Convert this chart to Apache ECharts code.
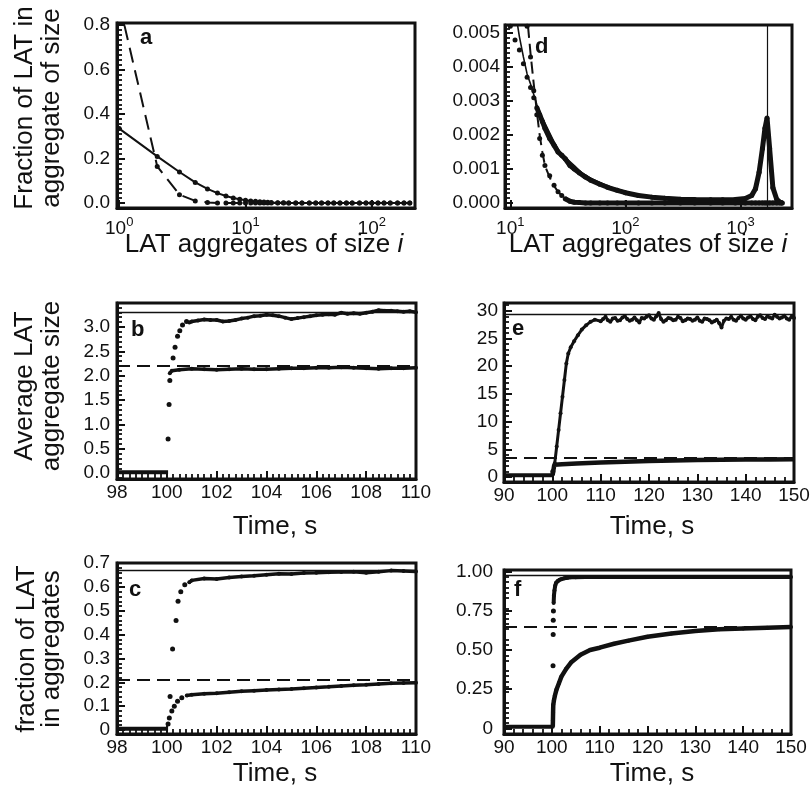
<!DOCTYPE html>
<html><head><meta charset="utf-8">
<script src="https://cdn.jsdelivr.net/npm/echarts@6/dist/echarts.min.js"></script>
<style>html,body{margin:0;padding:0;background:#fff}#c{width:811px;height:796px}</style>
</head><body><div id="c"></div>
<script>
// ---------------- DATA ----------------
// Panel a : distribution, log x
const aSizes = [1,2,3,4,5,6,7,8,9,10,11,12,13,14,15,16,18,20,22,25,28,32,36,40,45,50,56,63,70,80,90,100,112,125,140,160,180,200];
const aSolidFrac = [0.335,0.21,0.14,0.093,0.064,0.045,0.032,0.023,0.017,0.013,0.010,0.008,0.006,0.005,0.004,0.003,0.002,0.0015,0.001,0.0008,0.0006,0.0005,0.0004,0.0003,0.0003,0.0002,0.0002,0.0002,0.0001,0.0001,0.0001,0.0001,0.0001,0.0001,0.0001,0.0001,0.0001,0.0001];
const aDashFrac = [0.9,0.165,0.038,0.01,0.003,0.001,0.0004,0.0002,0.0001,0,0,0,0,0,0,0,0,0,0,0,0,0,0,0,0,0,0,0,0,0,0,0,0,0,0,0,0,0];
const aXTicks = [1,10,100];
const aYTicks = [0,0.2,0.4,0.6,0.8];

// Panel d : distribution, log x
const dModelSizes = [11,12,13,14,15,17,19,21,24,27,31,36,42,50,60,75,90,110,140,180,230,300,400,500,650,800,1000,1150,1250,1350,1450,1550,1630,1700,1790,1910,2065,2200,2300];
const dModelSolid = [0.0057,0.0049,0.0043,0.0038,0.0035,0.0029,0.0025,0.0022,0.0018,0.0015,0.0013,0.0011,0.00088,0.00073,0.0006,0.00046,0.00038,0.0003,0.00022,0.00017,0.00014,0.00012,0.0001,0.00009,0.00009,0.0001,0.00012,0.00016,0.00025,0.00045,0.0009,0.0016,0.0022,0.0025,0.0016,0.00045,0.0001,0.00002,0];
const dDashSizes = [13,14,15,16,17,18,19,20,22,24,26,28,30,34,40,60,200,1000,2300];
const dModelDash = [0.0068,0.0055,0.0044,0.0035,0.0027,0.002,0.0015,0.0011,0.00075,0.0005,0.00033,0.00022,0.00014,0.00005,0.00001,0,0,0,0];
const dSimSizes = [10,11,12,13,14,15,16,17,18,19,20,22,24,26,28,30,33,36,40,45,50,60,70,85,100,130,170,220,300,400,550,700,900,1100,1250,1350,1450,1550,1630,1700,1790,1910,2065,2200,2300];
const dSim1 = [0.0052,0.0048,0.0045,0.0041,0.0037,0.0034,0.0031,0.0028,0.0026,0.0024,0.0022,0.0019,0.0017,0.0015,0.0014,0.0013,0.0011,0.001,0.00088,0.00076,0.00067,0.00055,0.00046,0.00037,0.0003,0.00022,0.00017,0.00014,0.00011,0.0001,0.00009,0.00009,0.0001,0.00013,0.00022,0.00042,0.0009,0.0016,0.0022,0.0025,0.0016,0.00045,0.0001,0.00002,0];
const dSim2 = [0.009,0.0082,0.0074,0.0063,0.0052,0.0043,0.0033,0.0026,0.0019,0.0014,0.0011,0.0008,0.00052,0.00033,0.00022,0.00012,0.00005,0.00002,0.00001,0,0,0,0,0,0,0,0,0,0,0,0,0,0,0,0,0,0,0,0,0,0,0,0,0,0];
const dMeanSize = 1700;
const dXTicks = [10,100,1000];
const dYTicks = [0,0.001,0.002,0.003,0.004,0.005];

// Panel b : average aggregate size vs time
const bBaseT = [98,99,100.05];
const bBaseV = [0.02,0.02,0.02];
const bUpJumpT = [100.05,100.09,100.12,100.25,100.33,100.43,100.52,100.63,100.79];
const bUpJumpV = [0.70,1.41,1.90,2.36,2.58,2.81,2.92,3.04,3.11];
const bUpT = [100.9,101,101.25,101.5,101.75,102,102.25,102.5,102.75,103,103.25,103.5,103.75,104,104.25,104.5,104.75,105,105.25,105.5,105.75,106,106.25,106.5,106.75,107,107.25,107.5,107.75,108,108.25,108.5,108.75,109,109.25,109.5,109.75,110];
const bUpV = [3.09,3.11,3.13,3.15,3.14,3.14,3.11,3.12,3.14,3.17,3.19,3.22,3.23,3.25,3.24,3.22,3.19,3.16,3.18,3.2,3.22,3.24,3.25,3.26,3.25,3.29,3.27,3.28,3.27,3.29,3.31,3.34,3.33,3.33,3.32,3.31,3.32,3.3];
const bLowT = [100.12,100.2,100.5,101,101.5,102,102.5,103,103.5,104,104.5,105,105.5,106,106.5,107,107.5,108,108.5,109,109.5,110];
const bLowV = [2.05,2.1,2.12,2.14,2.13,2.12,2.13,2.14,2.13,2.13,2.14,2.15,2.15,2.16,2.16,2.17,2.16,2.15,2.14,2.15,2.15,2.16];
const bSolidRef = 3.3, bDashRef = 2.2;
const bXTicks = [98,100,102,104,106,108,110];
const bYTicks = [0,0.5,1,1.5,2,2.5,3];

// Panel e
const eBaseT = [90,95,100.05];
const eBaseV = [0.3,0.3,0.3];
const eUpJumpT = [100.1];
const eUpJumpV = [1.0];
const eUpT = [100.5,100.9,101.3,101.7,102.1,102.5,102.9,103.3,103.8,104.5,105.3,106.1,107,107.9,108.8,
  110,110.5,111,111.5,112,112.5,113,113.5,114,114.5,115,115.5,116,116.5,117,117.5,118,118.5,119,119.5,
  120,120.5,121,121.5,122,122.5,123,123.5,124,124.5,125,125.5,126,126.5,127,127.5,128,128.5,129,129.5,
  130,130.5,131,131.5,132,132.5,133,133.5,134,134.5,135,135.5,136,136.5,137,137.5,138,138.5,139,139.5,
  140,140.5,141,141.5,142,142.5,143,143.5,144,144.5,145,145.5,146,146.5,147,147.5,148,148.5,149,149.5,150];
const eUpV = [2.5,5.5,8.5,11.5,14.5,17.5,20.5,22.3,23.4,24.5,25.6,26.6,27.4,28.0,28.4,
  28.1,28.5,28.9,28.3,28.0,28.6,28.7,28.2,28.3,28.8,29.0,28.5,28.2,28.4,28.8,28.3,27.9,28.7,28.6,28.9,
  29.2,28.6,28.4,29.0,29.6,28.5,28.0,28.3,28.7,28.6,28.3,28.4,28.9,28.7,28.1,28.3,28.6,28.5,28.2,28.4,
  28.8,28.2,28.0,28.6,28.5,28.3,27.9,28.1,28.4,27.8,27.0,28.2,28.6,28.5,28.9,28.4,28.2,28.7,29.1,28.6,
  28.4,28.8,29.0,28.5,28.3,28.9,29.2,28.7,28.5,29.0,28.8,28.6,29.3,28.9,28.6,28.8,29.1,28.6,28.4,28.9,28.7];
const eLowT = [100.05,100.4,102,105,110,115,120,125,130,135,140,145,150];
const eLowV = [0.3,2.2,2.3,2.45,2.6,2.75,2.87,2.97,3.05,3.1,3.15,3.18,3.2];
const eSolidRef = 29.3, eDashRef = 3.55;
const eXTicks = [90,100,110,120,130,140,150];
const eYTicks = [0,5,10,15,20,25,30];

// Panel c
const cBaseT = [98,99,100.05];
const cBaseV = [0.005,0.005,0.005];
const cUpJumpT = [100.13,100.23,100.37,100.45,100.56,100.72];
const cUpJumpV = [0.14,0.34,0.46,0.54,0.58,0.61];
const cUpT = [100.9,101,101.5,102,102.5,103,103.5,104,104.5,105,105.5,106,106.5,107,107.5,108,108.5,109,109.5,110];
const cUpV = [0.62,0.628,0.636,0.634,0.64,0.644,0.647,0.652,0.656,0.655,0.659,0.66,0.662,0.663,0.664,0.66,0.664,0.669,0.667,0.665];
const cLowJumpT = [100.05,100.1,100.2,100.3,100.43,100.6];
const cLowJumpV = [0.025,0.05,0.08,0.1,0.12,0.135];
const cLowT = [100.8,101,101.5,102,102.5,103,103.5,104,104.5,105,105.5,106,106.5,107,107.5,108,108.5,109,109.5,110];
const cLowV = [0.145,0.148,0.152,0.154,0.158,0.162,0.165,0.168,0.17,0.172,0.175,0.178,0.181,0.185,0.188,0.19,0.193,0.196,0.197,0.198];
const cSolidRef = 0.673, cDashRef = 0.21;
const cXTicks = [98,100,102,104,106,108,110];
const cYTicks = [0,0.1,0.2,0.3,0.4,0.5,0.6,0.7];

// Panel f
const fBaseT = [90,95,100.2];
const fBaseV = [0.01,0.01,0.01];
const fUpJumpT = [100.25,100.28,100.3,100.33];
const fUpJumpV = [0.40,0.60,0.69,0.75];
const fUpT = [100.38,100.45,100.55,100.7,100.9,101.2,101.6,102,102.6,103.3,104,105,107,110,115,120,130,140,150];
const fUpV = [0.8,0.85,0.88,0.91,0.93,0.94,0.948,0.953,0.958,0.962,0.964,0.965,0.966,0.966,0.966,0.966,0.966,0.966,0.966];
const fLowT = [100.2,100.23,100.26,100.3,100.45,100.65,101,101.5,102,103,104,106,108,110,113,116,120,125,130,135,140,145,150];
const fLowV = [0.01,0.05,0.1,0.15,0.18,0.21,0.25,0.29,0.33,0.38,0.42,0.47,0.5,0.515,0.54,0.56,0.585,0.605,0.622,0.632,0.638,0.643,0.647];
const fSolidRef = 0.978, fDashRef = 0.653;
const fXTicks = [90,100,110,120,130,140,150];
const fYTicks = [0,0.25,0.5,0.75,1];

// ---------------- STYLE / LAYOUT ----------------
const FF = '"Liberation Sans", Arial, Helvetica, sans-serif';
const INK = '#111';
const grids = [
  {left:117, top:23, width:298, height:185},   // a
  {left:505, top:25, width:287, height:183},   // d
  {left:117, top:303, width:299, height:176},  // b
  {left:504, top:303, width:290, height:179},  // e
  {left:117, top:563, width:299, height:171},  // c
  {left:504, top:570, width:287, height:164}   // f
].map(g => Object.assign({show:true, borderColor:INK, borderWidth:3, backgroundColor:'transparent', containLabel:false, outerBoundsMode:'none'}, g));

const P = (xs, ys) => xs.map((x, i) => [x, ys[i]]);
const supFmt = v => { const e = Math.round(Math.log10(v)); return '10{sup|' + e + '}'; };

function xAxis(gi, type, min, max, ticks, fmt, minorSplit, margin) {
  const tick = {show:true, inside:true, length:8, lineStyle:{color:INK, width:2}};
  if (type === 'log') tick.customValues = ticks;
  const ax = {
    type, gridIndex: gi, min, max,
    axisLine: {show:true, onZero:false, lineStyle:{color:INK, width:3}},
    axisTick: tick,
    axisLabel: {show:true, customValues: ticks, formatter: fmt, color:INK, fontSize:19, fontFamily:FF, margin: margin,
      rich: {sup: {fontSize:13, fontFamily:FF, color:INK, padding:[0,0,12,0]}}},
    splitLine: {show:false},
    minorTick: {show: !!minorSplit, splitNumber: minorSplit || 5, length:5, lineStyle:{color:INK, width:1.8}},
    minorSplitLine: {show:false}
  };
  if (type === 'log') ax.logBase = 10;
  return ax;
}
function yAxis(gi, min, max, ticks, fmt, minorSplit, margin, splitNumber, customTicks) {
  const tick = {show:true, inside:true, length:8, lineStyle:{color:INK, width:2}};
  if (customTicks) tick.customValues = ticks;
  return {
    type:'value', gridIndex: gi, min, max, splitNumber: splitNumber || 5,
    axisLine: {show:true, onZero:false, lineStyle:{color:INK, width:3}},
    axisTick: tick,
    axisLabel: {show:true, customValues: ticks, formatter: fmt, color:INK, fontSize:19, fontFamily:FF, margin: margin},
    splitLine: {show:false},
    minorTick: {show:true, splitNumber: minorSplit, length:5, lineStyle:{color:INK, width:1.8}},
    minorSplitLine: {show:false}
  };
}

function lineS(gi, data, w, dash, sym) {
  return {type:'line', xAxisIndex:gi, yAxisIndex:gi, data, clip:true, silent:true, animation:false,
    symbol:'circle', symbolSize: sym || 0, showSymbol: !!sym, showAllSymbol: true,
    itemStyle:{color:INK, opacity:1}, lineStyle:{color:INK, width:w, type: dash || 'solid'}, emphasis:{disabled:true}};
}
function dotS(gi, data, size) {
  return {type:'scatter', xAxisIndex:gi, yAxisIndex:gi, data, clip:true, silent:true, animation:false,
    symbolSize: size, itemStyle:{color:INK, opacity:1}, emphasis:{disabled:true}};
}
function refLines(series, solidV, dashV) {
  series.markLine = {symbol:['none','none'], silent:true, animation:false, label:{show:false},
    data: [
      {yAxis: solidV, lineStyle:{color:INK, width:1.4, type:'solid'}},
      {yAxis: dashV, lineStyle:{color:INK, width:2, type:[13,7]}}
    ]};
  return series;
}

const series = [];
// a
series.push(lineS(0, P(aSizes, aDashFrac), 2, [15,8], 5));
series.push(lineS(0, P(aSizes, aSolidFrac), 2, 'solid', 5));
// d
series.push(lineS(1, P(dDashSizes, dModelDash), 2, [12,6], 0));
series.push(lineS(1, P(dModelSizes, dModelSolid), 1.6, 'solid', 0));
series.push(dotS(1, P(dSimSizes, dSim2), 5));
series.push(dotS(1, P(dSimSizes, dSim1), 5));
series.push(lineS(1, P(dSimSizes, dSim2).filter(p => p[0] >= 30), 5, 'solid', 0));
const dThick = lineS(1, P(dSimSizes, dSim1).filter(p => p[0] >= 17), 5, 'solid', 0);
dThick.markLine = {symbol:['none','none'], silent:true, animation:false, label:{show:false},
  data:[{xAxis: dMeanSize, lineStyle:{color:INK, width:1.2, type:'solid'}}]};
series.push(dThick);
// b
series.push(refLines(lineS(2, P(bBaseT, bBaseV), 4), bSolidRef, bDashRef));
series.push(dotS(2, P(bUpJumpT, bUpJumpV), 5));
series.push(lineS(2, P(bUpT, bUpV), 3.5, 'solid', 4));
series.push(lineS(2, P(bLowT, bLowV), 3.5, 'solid', 4));
// e
series.push(refLines(lineS(3, P(eBaseT, eBaseV), 4), eSolidRef, eDashRef));
series.push(dotS(3, P(eUpJumpT, eUpJumpV), 5));
series.push(lineS(3, P(eUpT, eUpV), 3, 'solid', 4));
series.push(lineS(3, P(eLowT, eLowV), 4.5, 'solid', 0));
// c
series.push(refLines(lineS(4, P(cBaseT, cBaseV), 4), cSolidRef, cDashRef));
series.push(dotS(4, P(cUpJumpT, cUpJumpV), 5));
series.push(lineS(4, P(cUpT, cUpV), 3.5, 'solid', 4));
series.push(dotS(4, P(cLowJumpT, cLowJumpV), 5));
series.push(lineS(4, P(cLowT, cLowV), 3.5, 'solid', 4));
// f
series.push(refLines(lineS(5, P(fBaseT, fBaseV), 4), fSolidRef, fDashRef));
series.push(dotS(5, P(fUpJumpT, fUpJumpV), 5));
series.push(lineS(5, P(fUpT, fUpV), 4, 'solid', 4));
series.push(lineS(5, P(fLowT, fLowV), 4.5, 'solid', 4));

const xAxes = [
  xAxis(0, 'log', 0.96, 220, aXTicks, supFmt, 0, 8),
  xAxis(1, 'log', 9, 2800, dXTicks, supFmt, 0, 8),
  xAxis(2, 'value', 98, 110, bXTicks, v => String(v), 8, 4),
  xAxis(3, 'value', 90, 150, eXTicks, v => String(v), 5, 4),
  xAxis(4, 'value', 98, 110, cXTicks, v => String(v), 8, 4),
  xAxis(5, 'value', 90, 150, fXTicks, v => String(v), 5, 4)
];
const yAxes = [
  yAxis(0, -0.022, 0.81, aYTicks, v => v.toFixed(1), 9, 7, 5, false),
  yAxis(1, -0.00015, 0.00524, dYTicks, v => v.toFixed(3), 7, 5, 5, false),
  yAxis(2, -0.12, 3.49, bYTicks, v => v.toFixed(1), 5, 7, 7, false),
  yAxis(3, -0.9, 31.4, eYTicks, v => String(v), 5, 6, 5, false),
  yAxis(4, -0.017, 0.701, cYTicks, v => v === 0 ? '0' : v.toFixed(1), 5, 7, 5, false),
  yAxis(5, -0.036, 1.011, fYTicks, v => v === 0 ? '0' : v.toFixed(2), 6, 11, 5, true)
];

function txt(x, y, text, size, extra) {
  return Object.assign({type:'text', x, y, silent:true,
    style: Object.assign({text, fill:INK, fontSize:size, fontFamily:FF, textAlign:'center', textVerticalAlign:'middle'}, (extra && extra.style) || {})},
    extra && extra.rotation !== undefined ? {rotation: extra.rotation} : {});
}
const italicRich = {it: {fontStyle:'italic', fontSize:26, fontFamily:FF, fill:INK}};
const graphic = [
  txt(38, 108, 'Fraction of LAT in\naggregate of size', 26, {rotation: Math.PI/2, style:{lineHeight:27}}),
  txt(38, 386, 'Average LAT\naggregate size', 26, {rotation: Math.PI/2, style:{lineHeight:27}}),
  txt(39, 649, 'fraction of LAT\nin aggregates', 26, {rotation: Math.PI/2, style:{lineHeight:25}}),
  txt(264, 245, 'LAT aggregates of size {it|i}', 26, {style:{rich: italicRich}}),
  txt(648, 245, 'LAT aggregates of size {it|i}', 26, {style:{rich: italicRich}}),
  txt(275, 527, 'Time, s', 26),
  txt(652, 527, 'Time, s', 26),
  txt(275, 774, 'Time, s', 26),
  txt(652, 774, 'Time, s', 26),
  txt(140, 38, 'a', 22, {style:{fontWeight:'bold', textAlign:'left'}}),
  txt(535, 47, 'd', 22, {style:{fontWeight:'bold', textAlign:'left'}}),
  txt(131, 330, 'b', 22, {style:{fontWeight:'bold', textAlign:'left'}}),
  txt(512, 329, 'e', 22, {style:{fontWeight:'bold', textAlign:'left'}}),
  txt(129, 590, 'c', 22, {style:{fontWeight:'bold', textAlign:'left'}}),
  txt(514, 590, 'f', 22, {style:{fontWeight:'bold', textAlign:'left'}})
];

const chart = echarts.init(document.getElementById('c'), null, {renderer:'canvas'});
chart.setOption({
  animation:false,
  backgroundColor:'#fff',
  grid: grids,
  xAxis: xAxes,
  yAxis: yAxes,
  series,
  graphic
});
</script></body></html>
